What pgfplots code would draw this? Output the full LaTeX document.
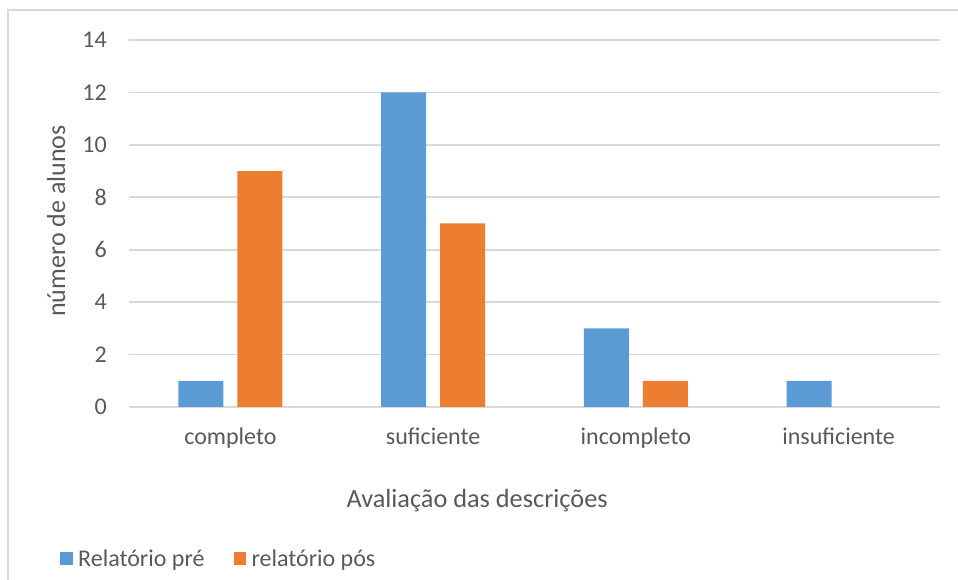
\documentclass[border=0pt]{standalone}
\usepackage{pgfplots}
\pgfplotsset{compat=1.18}
\usepackage{fontspec}
\setmainfont{Carlito}

\definecolor{barblue}{HTML}{5B9BD5}
\definecolor{barorange}{HTML}{ED7D31}
\definecolor{gridgray}{HTML}{D9D9D9}
\definecolor{textgray}{HTML}{595959}

\begin{document}
\begin{tikzpicture}
  % canvas and chart frame
  \path[use as bounding box] (0pt,0pt) rectangle (958pt,580pt);
  \draw[gridgray, line width=1.8pt] (8pt,0pt) -- (8pt,570pt) -- (958pt,570pt);

  \begin{axis}[
    at={(129pt,173pt)}, anchor=south west,
    width=811pt, height=367pt, scale only axis,
    xmin=-0.5, xmax=3.5, ymin=0, ymax=14,
    xtick={0,1,2,3},
    xticklabels={completo, suficiente, incompleto, insuficiente},
    ytick={0,2,...,14},
    major tick length=0pt,
    axis line style={draw=none},
    ymajorgrids,
    major grid style={gridgray, line width=1.8pt},
    /pgf/number format/assume math mode=true,
    tick label style={font=\fontsize{24}{28}\selectfont, text=textgray},
    yticklabel style={anchor=east, inner sep=0pt, xshift=-22pt},
    xticklabel style={anchor=base, inner sep=0pt, yshift=-38pt},
    xlabel={Avaliação das descrições},
    ylabel={número de alunos},
    every axis x label/.style={at={(axis description cs:0.4292,-0.2725)}, anchor=base,
      font=\fontsize{26.3}{30}\selectfont, text=textgray},
    every axis y label/.style={at={(axis description cs:-0.0789,0.5068)}, anchor=base,
      rotate=90, font=\fontsize{26}{30}\selectfont, text=textgray},
    legend columns=2,
    legend style={
      at={(axis description cs:-0.0851,-0.4129)}, anchor=west,
      draw=none, fill=none, inner sep=0pt,
      font=\fontsize{24}{28}\selectfont, text=textgray,
      nodes={inner sep=0pt},
      /tikz/every odd column/.append style={column sep=5.5pt},
      /tikz/every even column/.append style={column sep=29pt},
    },
    legend image code/.code={\fill[#1] (0pt,-6.25pt) rectangle (12.5pt,6.25pt);},
  ]
    % Relatório pré
    \addplot[ybar, bar width=45pt, bar shift=-29.5pt, fill=barblue, draw=none]
      coordinates {(0,1) (1,12) (2,3) (3,1)};
    \addlegendentry{Relatório pré}
    % relatório pós (insuficiente: 0, no bar drawn)
    \addplot[ybar, bar width=45pt, bar shift=29.5pt, fill=barorange, draw=none]
      coordinates {(0,9) (1,7) (2,1)};
    \addlegendentry{relatório pós}
  \end{axis}
\end{tikzpicture}
\end{document}
